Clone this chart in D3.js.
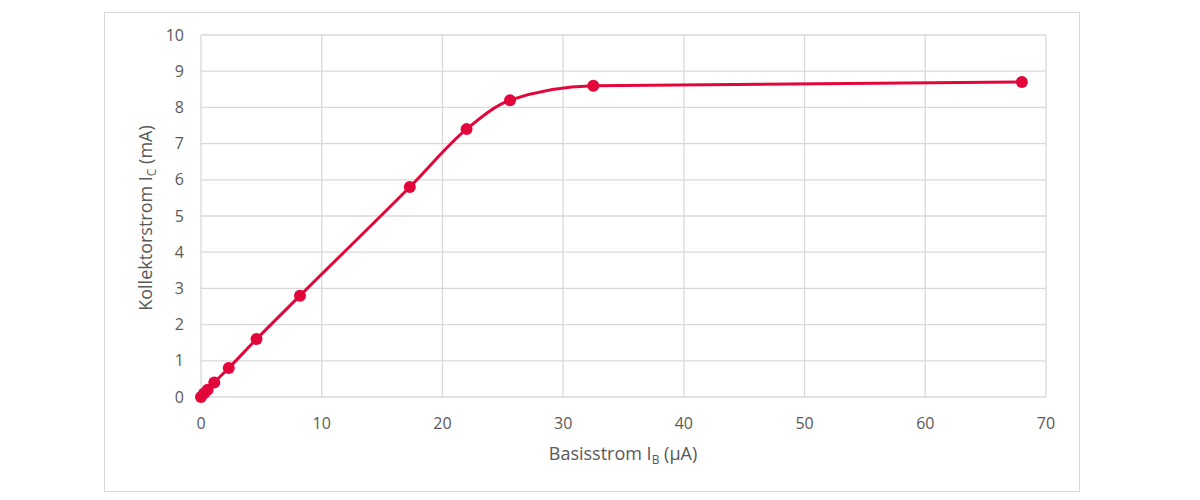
<!DOCTYPE html>
<html><head><meta charset="utf-8">
<script src="https://cdn.jsdelivr.net/npm/d3@7"></script>
<style>body{margin:0;background:#fff;} text{font-family:"Open Sans","Liberation Sans",sans-serif;fill:#595959;}</style>
</head><body><svg id="c" width="1200" height="500"></svg>
<script>
const basisstrom = [0, 0.25, 0.55, 1.1, 2.3, 4.6, 8.2, 17.3, 22.0, 25.6, 32.5, 68.0];
const kollektorstrom = [0, 0.1, 0.2, 0.4, 0.8, 1.6, 2.8, 5.8, 7.4, 8.2, 8.6, 8.7];
const xTicks = [0, 10, 20, 30, 40, 50, 60, 70];
const yTicks = [0, 1, 2, 3, 4, 5, 6, 7, 8, 9, 10];

const svg = d3.select("#c");
const color = "#E2063A";
svg.append("rect").attr("x",104.5).attr("y",12.5).attr("width",975).attr("height",479)
  .attr("fill","#fff").attr("stroke","#d9d9d9").attr("stroke-width",1);

const x = d3.scaleLinear().domain([0,70]).range([201,1046]);
const y = d3.scaleLinear().domain([0,10]).range([397,35]);

const g = svg.append("g");
g.selectAll("line.h").data(yTicks).join("line")
  .attr("x1",x(0)).attr("x2",x(70)).attr("y1",d=>y(d)).attr("y2",d=>y(d))
  .attr("stroke","#d9d9d9").attr("stroke-width",1.3);
g.selectAll("line.v").data(xTicks).join("line")
  .attr("y1",y(0)).attr("y2",y(10)).attr("x1",d=>x(d)).attr("x2",d=>x(d))
  .attr("stroke","#d9d9d9").attr("stroke-width",1.3);

g.selectAll("text.yt").data(yTicks).join("text")
  .attr("x",184).attr("y",d=>y(d)).attr("dy","0.35em").attr("text-anchor","end")
  .attr("font-size",16).text(d=>d);
g.selectAll("text.xt").data(xTicks).join("text")
  .attr("x",d=>x(d)).attr("y",423).attr("dy","0.35em").attr("text-anchor","middle")
  .attr("font-size",16).text(d=>d);

const xt = svg.append("text").attr("x",623).attr("y",460).attr("text-anchor","middle").attr("font-size",18);
xt.append("tspan").text("Basisstrom I");
xt.append("tspan").attr("font-size",12).attr("dy",4).text("B");
xt.append("tspan").attr("dy",-4).text(" (µA)");

const yt = svg.append("text").attr("transform","translate(152,218) rotate(-90)").attr("text-anchor","middle").attr("font-size",18);
yt.append("tspan").text("Kollektorstrom I");
yt.append("tspan").attr("font-size",12).attr("dy",4).text("C");
yt.append("tspan").attr("dy",-4).text(" (mA)");

const pts = basisstrom.map((b,i)=>[b,kollektorstrom[i]]);
const line = d3.line().x(d=>x(d[0])).y(d=>y(d[1])).curve(d3.curveMonotoneX);
svg.append("path").datum(pts).attr("d",line).attr("fill","none").attr("stroke",color).attr("stroke-width",3);
svg.selectAll("circle").data(pts).join("circle")
  .attr("cx",d=>x(d[0])).attr("cy",d=>y(d[1])).attr("r",6).attr("fill",color);
</script></body></html>
